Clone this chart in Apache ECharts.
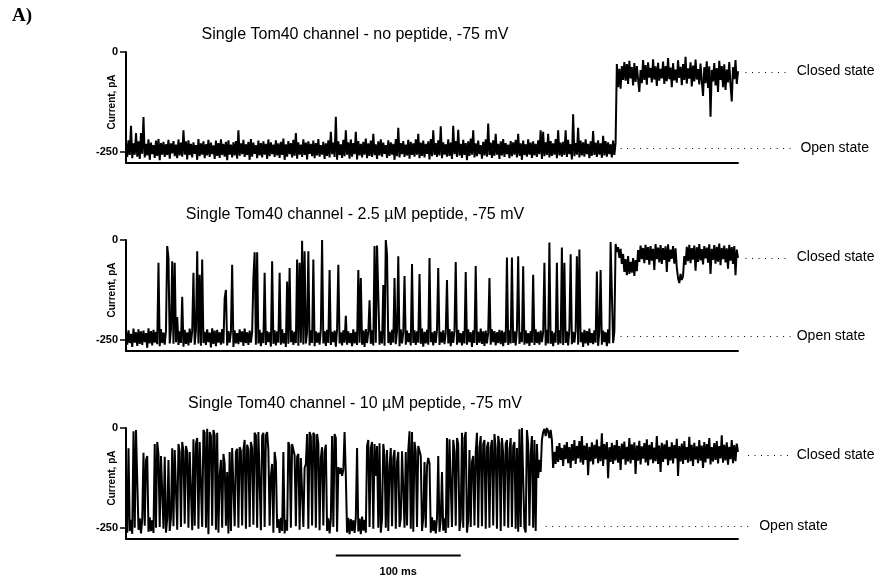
<!DOCTYPE html>
<html>
<head>
    <meta charset="UTF-8">
    <title>Single Tom40 channel</title>
    <script src="https://cdn.jsdelivr.net/npm/echarts@6.0.0/dist/echarts.min.js"></script>
</head>
<body style="margin:0;background:#fff">
<div id="main" style="width:894px;height:581px"></div>
<script type="text/javascript">
    // sampling step of the traces, ms
    var DT = 1;

    // current traces, pA, one value per DT (0 .. 490 ms)
    var trace1 = [
        -226,-263,-221,-258,-185,-266,-229,-257,-203,-262,
        -224,-268,-203,-255,-163,-264,-230,-259,-219,-270,
        -227,-256,-233,-265,-222,-260,-218,-271,-228,-257,
        -225,-263,-231,-258,-220,-267,-229,-254,-223,-261,
        -232,-266,-219,-259,-227,-262,-196,-257,-224,-269,
        -221,-258,-230,-264,-226,-255,-233,-270,-218,-261,
        -229,-257,-224,-266,-231,-259,-220,-263,-227,-256,
        -234,-268,-222,-260,-228,-265,-219,-258,-230,-262,
        -225,-271,-221,-257,-232,-264,-226,-259,-223,-267,
        -196,-260,-229,-256,-220,-263,-231,-258,-225,-270,
        -218,-262,-227,-255,-233,-266,-222,-259,-228,-264,
        -224,-257,-230,-268,-219,-261,-226,-256,-232,-263,
        -221,-259,-229,-265,-225,-258,-217,-270,-231,-262,
        -223,-256,-228,-264,-220,-260,-203,-267,-226,-257,
        -232,-263,-219,-258,-227,-269,-224,-255,-230,-261,
        -222,-266,-228,-259,-218,-262,-233,-257,-225,-268,
        -229,-260,-221,-264,-200,-256,-227,-263,-162,-270,
        -224,-258,-231,-265,-220,-261,-196,-257,-226,-267,
        -219,-262,-228,-256,-200,-269,-223,-259,-230,-264,
        -225,-257,-217,-266,-229,-260,-222,-263,-205,-258,
        -231,-268,-224,-259,-219,-262,-227,-255,-233,-265,
        -221,-260,-226,-257,-230,-270,-218,-261,-190,-264,
        -228,-256,-223,-263,-232,-259,-220,-267,-225,-258,
        -229,-262,-219,-257,-205,-266,-227,-260,-222,-264,
        -230,-255,-224,-269,-218,-261,-196,-258,-228,-263,
        -221,-259,-186,-266,-226,-257,-231,-262,-219,-260,
        -227,-268,-185,-256,-223,-263,-195,-259,-230,-265,
        -220,-258,-228,-271,-224,-260,-217,-257,-196,-264,
        -229,-261,-222,-256,-233,-267,-225,-259,-219,-262,
        -179,-258,-227,-265,-221,-260,-205,-257,-230,-268,
        -224,-259,-218,-263,-228,-256,-232,-266,-223,-261,
        -226,-257,-220,-264,-205,-260,-229,-270,-222,-258,
        -231,-262,-219,-257,-227,-265,-224,-259,-230,-263,
        -221,-256,-196,-268,-200,-261,-226,-258,-205,-264,
        -223,-260,-229,-257,-218,-266,-196,-259,-227,-262,
        -225,-258,-196,-263,-220,-256,-231,-269,-156,-261,
        -228,-257,-190,-264,-222,-259,-226,-262,-219,-256,
        -230,-266,-224,-260,-198,-258,-227,-263,-221,-257,
        -229,-265,-210,-259,-223,-262,-226,-256,-231,-264,
        -222,-258,-227,-30,-88,-42,-92,-35,-70,-25,
        -72,-30,-80,-22,-66,-38,-84,-28,-75,-35,
        -68,-100,-45,-78,-20,-70,-33,-82,-26,-64,
        -40,-76,-18,-69,-36,-85,-27,-72,-42,-66,
        -24,-80,-35,-73,-15,-68,-39,-88,-28,-71,
        -44,-77,-21,-65,-37,-83,-30,-70,-12,-79,
        -41,-67,-26,-86,-34,-74,-19,-69,-43,-81,
        -29,-72,-110,-38,-78,-23,-90,-36,-162,-45,
        -74,-28,-84,-40,-100,-22,-70,-35,-88,-31,
        -95,-44,-76,-25,-82,-124,-38,-68,-20,-80,
        -48
    ];
    var trace2 = [
        -230,-262,-226,-258,-235,-268,-222,-257,-231,-265,
        -224,-260,-229,-263,-227,-256,-233,-270,-221,-259,
        -228,-264,-225,-257,-230,-261,-57,-266,-223,-258,
        -232,-262,-227,-15,-45,-259,-224,-53,-260,-57,
        -256,-193,-263,-229,-258,-142,-267,-225,-260,-231,
        -264,-222,-257,-228,-82,-262,-226,-28,-259,-87,
        -265,-49,-258,-230,-263,-224,-256,-232,-269,-221,
        -260,-227,-266,-225,-257,-231,-262,-223,-259,-146,
        -125,-264,-228,-257,-230,-62,-268,-226,-259,-233,
        -261,-224,-256,-229,-265,-222,-258,-231,-263,-227,
        -257,-230,-95,-31,-262,-31,-259,-225,-266,-232,
        -258,-82,-263,-228,-256,-231,-267,-53,-260,-226,
        -264,-229,-257,-82,-262,-224,-259,-233,-268,-104,
        -260,-70,-256,-227,-263,-230,-258,-49,-265,-57,
        -257,-2,-262,-28,-259,-231,-28,-264,-226,-258,
        -49,-266,-229,-257,-232,-262,-224,0,-259,-228,
        -265,-225,-258,-75,-263,-230,-256,-227,-267,-222,
        -62,-259,-231,-264,-226,-257,-190,-262,-229,-258,
        -233,-266,-224,-259,-230,-263,-75,-257,-95,-262,
        -227,-268,-223,-258,-231,-151,-260,-226,-264,-15,
        -257,-14,-10,-262,-229,-259,-113,-265,0,-36,
        -258,-230,-263,-225,-257,-95,-261,-228,-41,-266,
        -224,-259,-231,-90,-262,-227,-256,-233,-264,-60,
        -258,-226,-263,-229,-257,-85,-260,-222,-267,-230,
        -259,-225,-262,-45,-256,-231,-264,-228,-258,-224,
        -70,-263,-230,-257,-226,-261,-232,-100,-259,-223,
        -266,-229,-258,-227,-55,-262,-225,-257,-233,-264,
        -228,-259,-80,-262,-224,-256,-231,-268,-226,-258,
        -65,-263,-230,-257,-222,-260,-229,-265,-227,-259,
        -232,-95,-262,-224,-256,-228,-264,-231,-258,-225,
        -261,-227,-266,-230,-257,-44,-263,-226,-259,-44,
        -258,-229,-264,-223,-41,-260,-231,-256,-66,-262,
        -226,-259,-233,-265,-228,-257,-87,-263,-224,-258,
        -230,-262,-227,-256,-231,-57,-264,-225,-259,-6,
        -260,-228,-266,-232,-257,-57,-262,-226,-259,-19,
        -263,-57,-258,-229,-264,-224,-36,-261,-230,-257,
        -227,-41,-262,-24,-256,-231,-268,-225,-259,-228,
        -264,-222,-258,-233,-261,-226,-257,-79,-265,-229,
        -75,-262,-227,-256,-231,-266,-224,-259,-5,-6,
        -258,-230,-10,-30,-18,-45,-22,-60,-35,-80,
        -48,-88,-40,-85,-55,-82,-45,-90,-50,-78,
        -25,-55,-14,-48,-20,-58,-12,-50,-18,-62,
        -15,-52,-22,-75,-10,-48,-19,-56,-13,-60,
        -20,-50,-16,-80,-11,-54,-24,-47,-15,-59,
        -21,-70,-95,-108,-85,-100,-90,-40,-62,-17,
        -53,-12,-58,-20,-49,-14,-77,-18,-55,-10,
        -51,-23,-61,-15,-46,-19,-57,-11,-85,-22,
        -50,-13,-59,-17,-54,-9,-63,-20,-48,-14,
        -56,-21,-72,-12,-52,-18,-60,-15,-88,-24,
        -45
    ];
    var trace3 = [
        -228,-262,-51,-258,-230,-265,-8,-250,-5,-10,
        -255,-226,-264,-229,-62,-245,-80,-70,-260,-224,
        -258,-231,-263,-40,-250,-35,-66,-248,-70,-75,
        -252,-72,-262,-227,-80,-258,-225,-51,-246,-55,
        -52,-255,-40,-60,-248,-35,-58,-240,-45,-60,
        -250,-60,-62,-256,-28,-245,-40,-25,-252,-35,
        -38,-248,-5,-12,-250,-2,-266,-10,-20,-245,
        -5,-18,-255,-12,-262,-120,-80,-250,-65,-90,
        -245,-110,-264,-60,-258,-50,-45,-246,-60,-52,
        -250,-48,-58,-244,-55,-30,-252,-42,-55,-248,
        -35,-50,-242,-12,-18,-250,-10,-15,-256,-20,
        -12,-248,-18,-10,-55,-245,-120,-90,-262,-60,
        -85,-250,-228,-263,-225,-258,-60,-264,-230,-257,
        -35,-45,-250,-40,-38,-68,-246,-72,-65,-255,
        -75,-80,-248,-100,-90,-15,-252,-10,-20,-244,
        -12,-18,-250,-15,-40,-256,-75,-48,-244,-60,
        -42,-258,-226,-264,-229,-20,-248,-15,-25,-260,
        -98,-115,-100,-120,-105,-10,-118,-262,-225,-266,
        -228,-258,-231,-263,-224,-50,-259,-227,-266,-222,
        -257,-230,-262,-45,-30,-248,-50,-35,-252,-40,
        -120,-45,-250,-38,-262,-228,-40,-70,-250,-55,
        -258,-95,-50,-246,-75,-55,-252,-85,-60,-248,
        -226,-58,-55,-250,-60,-244,-56,-8,-252,-10,
        -260,-35,-60,-248,-45,-50,-70,-258,-226,-85,
        -250,-95,-75,-88,-262,-224,-258,-231,-264,-227,
        -70,-260,-229,-110,-257,-226,-263,-25,-250,-28,
        -25,-248,-30,-60,-245,-25,-40,-258,-228,-12,
        -250,-25,-10,-262,-230,-55,-248,-85,-70,-244,
        -60,-12,-250,-50,-20,-246,-40,-30,-252,-48,
        -35,-250,-50,-30,-244,-15,-50,-252,-20,-40,
        -258,-25,-65,-246,-40,-30,-250,-55,-25,-248,
        -45,-35,-252,-50,-260,-3,-248,0,-5,-250,
        -262,-5,-40,-245,-65,-20,-250,-30,-258,-40,
        -125,-80,-110,-30,-10,-2,-20,0,-8,-25,
        -5,-30,-100,-60,-90,-45,-85,-38,-80,-50,
        -95,-42,-78,-35,-88,-48,-100,-40,-82,-30,
        -90,-45,-76,-33,-86,-20,-92,-44,-80,-38,
        -118,-47,-84,-36,-91,-42,-77,-29,-88,-46,
        -83,-13,-95,-40,-79,-35,-126,-48,-85,-37,
        -90,-43,-81,-30,-87,-45,-105,-39,-78,-34,
        -92,-47,-84,-25,-89,-41,-80,-36,-115,-44,
        -82,-32,-91,-46,-77,-38,-86,-28,-94,-42,
        -79,-35,-88,-49,-83,-20,-90,-44,-110,-37,
        -85,-41,-78,-31,-93,-47,-81,-36,-89,-43,
        -76,-27,-120,-45,-84,-39,-90,-33,-80,-48,
        -87,-22,-83,-42,-95,-37,-79,-46,-88,-30,
        -82,-44,-100,-35,-86,-40,-77,-25,-91,-48,
        -84,-38,-80,-33,-89,-45,-76,-18,-87,-42,
        -81,-36,-92,-47,-78,-30,-88,-43,-83,-39,
        -60
    ];

    var titles = [
        'Single Tom40 channel - no peptide, -75 mV',
        'Single Tom40 channel - 2.5 \u00b5M peptide, -75 mV',
        'Single Tom40 channel - 10 \u00b5M peptide, -75 mV'
    ];
    var yTicks = [-250, 0];
    var closedLevel = [-49, -44, -68];
    var openLevel = [-240, -241, -245];
    var scaleBarMs = 100;

    var traces = [trace1, trace2, trace3];
    var gridTops = [52, 240, 428];
    var FONT = '"Liberation Sans", Arial, sans-serif';

    var myChart = echarts.init(document.getElementById('main'));

    var option = {
        animation: false,
        backgroundColor: '#fff',
        grid: [], xAxis: [], yAxis: [], series: []
    };
    traces.forEach(function (tr, i) {
        option.grid.push({left: 126, top: gridTops[i], width: 612, height: 111});
        option.xAxis.push({
            type: 'value', gridIndex: i, min: 0, max: 490,
            axisLine: {onZero: false, lineStyle: {color: '#000', width: 2}},
            axisTick: {show: false}, axisLabel: {show: false}, splitLine: {show: false}
        });
        option.yAxis.push({
            type: 'value', gridIndex: i, min: -278, max: 0,
            axisLine: {show: true, onZero: false, lineStyle: {color: '#000', width: 2}},
            axisTick: {show: true, customValues: yTicks, length: 6, lineStyle: {color: '#000', width: 1.5}},
            axisLabel: {customValues: yTicks, color: '#000', fontWeight: 'bold', fontSize: 11, fontFamily: FONT, margin: 8},
            splitLine: {show: false}
        });
        option.series.push({
            type: 'line', xAxisIndex: i, yAxisIndex: i, showSymbol: false, silent: true,
            lineStyle: {color: '#000', width: 2},
            data: tr.map(function (v, k) { return [k * DT, v]; })
        });
    });
    myChart.setOption(option);

    // annotations placed from data coordinates
    var g = [];
    function px(i, t, v) { return myChart.convertToPixel({gridIndex: i}, [t, v]); }
    function dots(i, t0, t1, v) {
        var a = px(i, t0, v), b = px(i, t1, v);
        g.push({type: 'line', silent: true, shape: {x1: a[0], y1: Math.round(a[1]) + 0.5, x2: b[0], y2: Math.round(a[1]) + 0.5},
            style: {stroke: '#000', lineWidth: 1, lineDash: [1, 5.5]}});
    }
    function label(x, y, text, font) {
        g.push({type: 'text', silent: true, style: {text: text, x: x, y: y, fill: '#000', font: font,
            textAlign: 'left', align: 'left', textVerticalAlign: 'middle', verticalAlign: 'middle'}});
    }
    var titleY = [35, 215, 404];
    var closedFrom = [496, 496, 498], openFrom = [396, 396, 336], openTo = [532, 532, 500], openLabelAt = [540, 537, 507];
    traces.forEach(function (tr, i) {
        var c = px(i, 0, closedLevel[i]), o = px(i, 0, openLevel[i]);
        dots(i, closedFrom[i], 532, closedLevel[i]);
        dots(i, openFrom[i], openTo[i], openLevel[i]);
        label(px(i, 537, 0)[0], c[1], 'Closed state', '14px ' + FONT);
        label(px(i, openLabelAt[i], 0)[0], o[1], 'Open state', '14px ' + FONT);
        g.push({type: 'text', silent: true, style: {text: titles[i], x: 355, y: titleY[i], fill: '#000', font: '16px ' + FONT,
            textAlign: 'center', align: 'center', textVerticalAlign: 'middle', verticalAlign: 'middle'}});
        g.push({type: 'text', silent: true, x: 112, y: gridTops[i] + 50, rotation: Math.PI / 2,
            style: {text: 'Current, pA', x: 0, y: 0, fill: '#000', font: 'bold 10px ' + FONT,
                textAlign: 'center', align: 'center', textVerticalAlign: 'middle', verticalAlign: 'middle'}});
    });
    var s0 = px(2, 168, 0)[0], s1 = px(2, 168 + scaleBarMs, 0)[0];
    g.push({type: 'line', silent: true, shape: {x1: s0, y1: 555.5, x2: s1, y2: 555.5}, style: {stroke: '#000', lineWidth: 2}});
    g.push({type: 'text', silent: true, style: {text: scaleBarMs + ' ms', x: (s0 + s1) / 2, y: 572, fill: '#000', font: 'bold 11px ' + FONT,
        textAlign: 'center', align: 'center', textVerticalAlign: 'middle', verticalAlign: 'middle'}});
    g.push({type: 'text', silent: true, style: {text: 'A)', x: 12, y: 16, fill: '#000', font: 'bold 19px "Liberation Serif", "Times New Roman", serif',
        textAlign: 'left', align: 'left', textVerticalAlign: 'middle', verticalAlign: 'middle'}});
    myChart.setOption({graphic: g});
</script>
</body>
</html>
